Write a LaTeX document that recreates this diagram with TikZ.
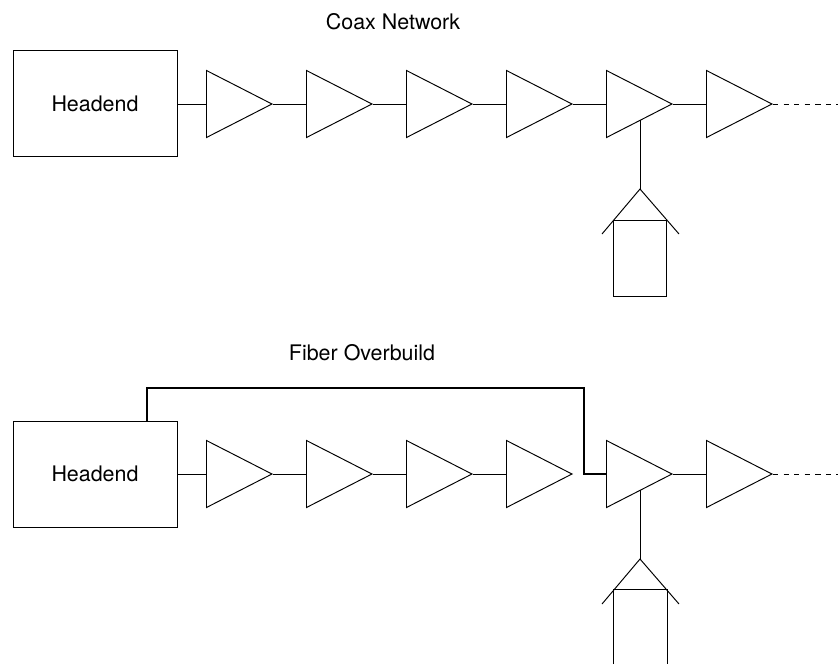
\documentclass[tikz,border=0pt]{standalone}
\usepackage{fontspec}
\setmainfont{TeX Gyre Heros}
\usetikzlibrary{shapes.geometric}

\begin{document}
\begin{tikzpicture}[-, x=0.02cm, y=-0.02cm, line width=0.55pt,
amp/.style={isosceles triangle, isosceles triangle apex angle=53, isosceles triangle stretches, minimum width=1.34cm, minimum height=1.31cm, inner sep=0pt, draw, anchor=lower side},
head/.style={rectangle, draw, minimum width=3.28cm, minimum height=2.12cm, inner sep=0pt, font=\fontsize{12.2}{14}\selectfont},
house/.style={rectangle, draw, minimum width=1.07cm, minimum height=1.52cm, inner sep=0pt},
title/.style={inner sep=0pt, font=\fontsize{12.2}{14}\selectfont},
fiber/.style={line width=1.6pt}]
\useasboundingbox (0,0) rectangle (838,664);
\node[title] (t1) at (393,21.5) {Coax Network};
\node[title] (t2) at (362,352.5) {Fiber Overbuild};
% coax network
\node[head] (h1) at (95,103.5) {Headend};
\node[amp] (a1) at (206,104) {};
\node[amp] (a2) at (306,104) {};
\node[amp] (a3) at (406,104) {};
\node[amp] (a4) at (506,104) {};
\node[amp] (a5) at (606,104) {};
\node[amp] (a6) at (706,104) {};
\coordinate (e1) at (838,104);
\coordinate (s1) at (640,120);
\coordinate (p1) at (640,189);
\coordinate (l1) at (602,234);
\coordinate (r1) at (679,234);
\node[house] (b1) at (640,258) {};
\path
(h1.east |- a1.lower side) edge (a1.lower side)
(a1.apex) edge (a2.lower side)
(a2.apex) edge (a3.lower side)
(a3.apex) edge (a4.lower side)
(a4.apex) edge (a5.lower side)
(a5.apex) edge (a6.lower side)
(s1) edge (p1);
\draw[dashed] (a6.apex) -- (e1);
\draw (l1) -- (p1) -- (r1);
% fiber overbuild
\node[head] (h2) at (95,474) {Headend};
\node[amp] (c1) at (206,474) {};
\node[amp] (c2) at (306,474) {};
\node[amp] (c3) at (406,474) {};
\node[amp] (c4) at (506,474) {};
\node[amp] (c5) at (606,474) {};
\node[amp] (c6) at (706,474) {};
\coordinate (e2) at (838,474);
\coordinate (s2) at (640,490);
\coordinate (p2) at (640,559);
\coordinate (l2) at (602,604);
\coordinate (r2) at (679,604);
\coordinate (k1) at (613.5,589);
\coordinate (k2) at (667,589);
\coordinate (k3) at (613.5,664);
\coordinate (k4) at (667,664);
\coordinate (f1) at (147,388);
\coordinate (f2) at (584,388);
\coordinate (f3) at (584,474);
\coordinate (f0) at (147,421);
\path
(h2) edge (c1.lower side)
(c1.apex) edge (c2.lower side)
(c2.apex) edge (c3.lower side)
(c3.apex) edge (c4.lower side)
(c5.apex) edge (c6.lower side)
(s2) edge (p2);
\draw[dashed] (c6.apex) -- (e2);
\draw (l2) -- (p2) -- (r2);
\draw (k3) -- (k1) -- (k2) -- (k4);
\draw[fiber] (f0) -- (f1) -- (f2) -- (f3) -- (c5.lower side);
\end{tikzpicture}
\end{document}
